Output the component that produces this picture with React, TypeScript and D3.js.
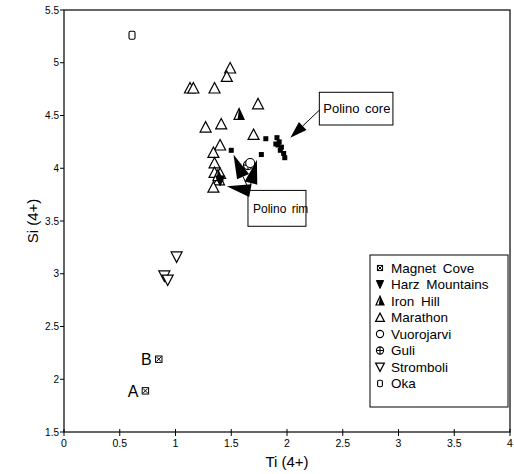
import React from "react";
import * as d3 from "d3";

const W = 514, H = 474;

const xTicks = [0, 0.5, 1, 1.5, 2, 2.5, 3, 3.5, 4];
const yTicks = [1.5, 2, 2.5, 3, 3.5, 4, 4.5, 5, 5.5];

const magnetCoveX = [0.73, 0.85];
const magnetCoveY = [1.89, 2.19];
const magnetCoveLabels = ["A", "B"];
const harzX = [1.4];
const harzY = [3.88];
const ironHillX = [1.57, 1.38];
const ironHillY = [4.51, 3.93];
const marathonX = [1.13, 1.16, 1.35, 1.49, 1.46, 1.74, 1.27, 1.41, 1.7, 1.4, 1.34, 1.35, 1.35, 1.4, 1.39, 1.34];
const marathonY = [4.76, 4.76, 4.76, 4.95, 4.87, 4.61, 4.39, 4.42, 4.32, 4.22, 4.15, 4.05, 3.96, 3.95, 3.89, 3.82];
const vuorojarviX = [1.67];
const vuorojarviY = [4.05];
const guliX = [1.65];
const guliY = [4.03];
const stromboliX = [1.01, 0.9, 0.93];
const stromboliY = [3.16, 2.98, 2.94];
const okaX = [0.61];
const okaY = [5.26];
const polinoX = [1.5, 1.77, 1.81, 1.91, 1.93, 1.92, 1.95, 1.94, 1.97, 1.98, 1.9];
const polinoY = [4.17, 4.13, 4.28, 4.29, 4.25, 4.22, 4.2, 4.17, 4.14, 4.1, 4.23];

const legendNames = ["Magnet Cove", "Harz Mountains", "Iron Hill", "Marathon", "Vuorojarvi", "Guli", "Stromboli", "Oka"];
const legendKinds = ["magnet", "harz", "iron", "marathon", "vuoro", "guli", "stromboli", "oka"];

const FONT = "'Liberation Sans', Arial, Helvetica, sans-serif";

function Marker({ kind, cx, cy, k = 1 }: { kind: string; cx: number; cy: number; k?: number }) {
  const s = 5.5 * k;
  switch (kind) {
    case "magnet":
      return (
        <g stroke="#000" strokeWidth={1} fill="#fff">
          <rect x={cx - 3.2 * k} y={cy - 3.2 * k} width={6.4 * k} height={6.4 * k} />
          <path d={`M${cx - 2.3 * k},${cy - 2.3 * k}L${cx + 2.3 * k},${cy + 2.3 * k}M${cx + 2.3 * k},${cy - 2.3 * k}L${cx - 2.3 * k},${cy + 2.3 * k}`} />
        </g>
      );
    case "harz":
      return <path d={`M${cx - 4.5 * k},${cy - 5 * k}L${cx + 4.5 * k},${cy - 5 * k}L${cx},${cy + 5 * k}Z`} fill="#000" stroke="#000" strokeWidth={1} />;
    case "iron":
      return (
        <g>
          <path d={`M${cx},${cy - 6 * k}L${cx + 5 * k},${cy + 5 * k}L${cx - 5 * k},${cy + 5 * k}Z`} fill="#fff" stroke="#000" strokeWidth={1.2} />
          <path d={`M${cx},${cy - 6 * k}L${cx + 5 * k},${cy + 5 * k}L${cx - 1.5 * k},${cy + 5 * k}Z`} fill="#000" />
        </g>
      );
    case "marathon":
      return <path d={`M${cx},${cy - s}L${cx + s},${cy + s * 0.9}L${cx - s},${cy + s * 0.9}Z`} fill="#fff" stroke="#000" strokeWidth={1.2} />;
    case "vuoro":
      return <circle cx={cx} cy={cy} r={4.5 * k} fill="#fff" stroke="#000" strokeWidth={1.1} />;
    case "guli":
      return (
        <g stroke="#000" strokeWidth={1.1} fill="#fff">
          <circle cx={cx} cy={cy} r={4.5 * k} />
          <path d={`M${cx - 4.5 * k},${cy}L${cx + 4.5 * k},${cy}M${cx},${cy - 4.5 * k}L${cx},${cy + 4.5 * k}`} />
        </g>
      );
    case "stromboli":
      return <path d={`M${cx - s},${cy - s * 0.9}L${cx + s},${cy - s * 0.9}L${cx},${cy + s}Z`} fill="#fff" stroke="#000" strokeWidth={1.2} />;
    case "oka":
      return <rect x={cx - 3 * k} y={cy - 4 * k} width={6 * k} height={8 * k} rx={1.5} fill="#fff" stroke="#000" strokeWidth={1.1} />;
    case "polino":
      return <rect x={cx - 2.5} y={cy - 2.5} width={5} height={5} fill="#000" />;
    default:
      return null;
  }
}

function Arrow({ x1, y1, x2, y2, len, hw }: { x1: number; y1: number; x2: number; y2: number; len: number; hw: number }) {
  const dx = x2 - x1, dy = y2 - y1;
  const L = Math.sqrt(dx * dx + dy * dy);
  const ux = dx / L, uy = dy / L;
  const bx = x2 - ux * len, by = y2 - uy * len;
  const px = -uy * hw, py = ux * hw;
  return (
    <g>
      <line x1={x1} y1={y1} x2={bx} y2={by} stroke="#000" strokeWidth={1} />
      <path d={`M${x2},${y2}L${bx + px},${by + py}L${bx - px},${by - py}Z`} fill="#000" />
    </g>
  );
}

export default function App() {
  const x = d3.scaleLinear().domain([0, 4]).range([64, 510]);
  const y = d3.scaleLinear().domain([1.5, 5.5]).range([432, 10]);

  const series: { kind: string; xs: number[]; ys: number[] }[] = [
    { kind: "marathon", xs: marathonX, ys: marathonY },
    { kind: "polino", xs: polinoX, ys: polinoY },
    { kind: "iron", xs: ironHillX, ys: ironHillY },
    { kind: "harz", xs: harzX, ys: harzY },
    { kind: "guli", xs: guliX, ys: guliY },
    { kind: "vuoro", xs: vuorojarviX, ys: vuorojarviY },
    { kind: "stromboli", xs: stromboliX, ys: stromboliY },
    { kind: "oka", xs: okaX, ys: okaY },
    { kind: "magnet", xs: magnetCoveX, ys: magnetCoveY },
  ];

  const coreBox = { x0: 2.29, x1: 2.95, y0: 4.72, y1: 4.41 };
  const coreArrow = { from: [2.29, 4.55], to: [2.03, 4.29] };
  const rimBox = { x0: 1.65, x1: 2.17, y0: 3.79, y1: 3.45 };
  const rimTail = [1.66, 3.79];
  const rimTips = [[1.52, 4.13], [1.73, 4.08], [1.46, 3.83]];

  const legY0 = 268, legStep = 16.5;

  return (
    <svg width={W} height={H} style={{ position: "absolute", left: 0, top: 0, background: "#fff" }} fontFamily={FONT}>
      <rect x={0} y={0} width={W} height={H} fill="#fff" />
      <rect x={x(0)} y={y(5.5)} width={x(4) - x(0)} height={y(1.5) - y(5.5)} fill="none" stroke="#000" strokeWidth={1.2} />
      {yTicks.map((t) => (
        <g key={"y" + t}>
          <line x1={x(0) - 4} x2={x(0)} y1={y(t)} y2={y(t)} stroke="#000" strokeWidth={1} />
          <text x={x(0) - 5} y={y(t)} dy="0.35em" textAnchor="end" fontSize={10}>{t}</text>
        </g>
      ))}
      {xTicks.map((t) => (
        <g key={"x" + t}>
          <line x1={x(t)} x2={x(t)} y1={y(1.5) - 3} y2={y(1.5) + 4} stroke="#000" strokeWidth={1} />
          <text x={x(t)} y={y(1.5) + 15} textAnchor="middle" fontSize={10.5}>{t}</text>
        </g>
      ))}
      <text x={287} y={467} textAnchor="middle" fontSize={15}>Ti (4+)</text>
      <text transform={`translate(38,221) rotate(-90)`} textAnchor="middle" fontSize={15}>Si (4+)</text>

      {series.map((s) =>
        s.xs.map((v, i) => <Marker key={s.kind + i} kind={s.kind} cx={x(v)} cy={y(s.ys[i])} />)
      )}
      {magnetCoveX.map((v, i) => (
        <text key={"lab" + i} x={x(v) - 7} y={y(magnetCoveY[i])} dy="0.36em" textAnchor="end" fontSize={16}>{magnetCoveLabels[i]}</text>
      ))}

      <rect x={x(coreBox.x0)} y={y(coreBox.y0)} width={x(coreBox.x1) - x(coreBox.x0)} height={y(coreBox.y1) - y(coreBox.y0)} fill="#fff" stroke="#000" strokeWidth={1} />
      <text x={x(coreBox.x0) + 4} y={(y(coreBox.y0) + y(coreBox.y1)) / 2} dy="0.35em" fontSize={13} wordSpacing={2}>Polino core</text>
      <Arrow x1={x(coreArrow.from[0])} y1={y(coreArrow.from[1])} x2={x(coreArrow.to[0])} y2={y(coreArrow.to[1])} len={17} hw={5.5} />

      <rect x={x(rimBox.x0)} y={y(rimBox.y0)} width={x(rimBox.x1) - x(rimBox.x0)} height={y(rimBox.y1) - y(rimBox.y0)} fill="#fff" stroke="#000" strokeWidth={1} />
      <text x={x(rimBox.x0) + 5} y={(y(rimBox.y0) + y(rimBox.y1)) / 2} dy="0.35em" fontSize={12} wordSpacing={2}>Polino rim</text>
      {rimTips.map((t, i) => (
        <Arrow key={"ra" + i} x1={x(rimTail[0])} y1={y(rimTail[1])} x2={x(t[0])} y2={y(t[1])} len={24} hw={6.5} />
      ))}

      <rect x={370} y={255} width={138} height={152} fill="#fff" stroke="#000" strokeWidth={1} />
      {legendNames.map((n, i) => (
        <g key={n}>
          <Marker kind={legendKinds[i]} cx={380} cy={legY0 + i * legStep} k={0.8} />
          <text x={391} y={legY0 + i * legStep} dy="0.36em" fontSize={13.5} wordSpacing={3}>{n}</text>
        </g>
      ))}
    </svg>
  );
}
